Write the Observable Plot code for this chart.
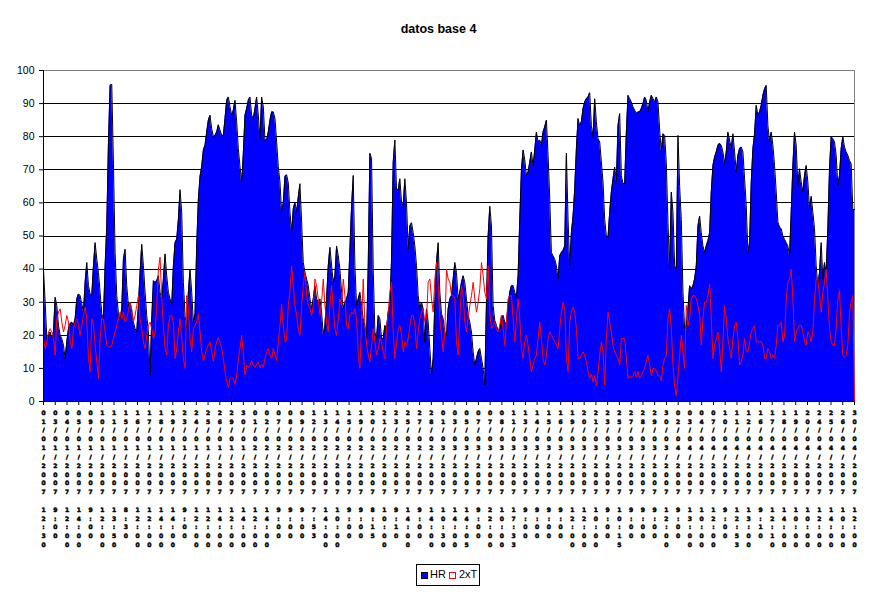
<!DOCTYPE html>
<html>
<head>
<meta charset="utf-8">
<script src="https://cdn.jsdelivr.net/npm/d3@7"></script>
<script src="https://cdn.jsdelivr.net/npm/@observablehq/plot@0.6"></script>
<style>
  html, body { margin: 0; padding: 0; background: #fff; }
  #wrap { position: relative; width: 877px; height: 594px; overflow: hidden; font-family: "Liberation Sans", Arial, sans-serif; }
  #title { position: absolute; left: 0; top: 21px; width: 877px; text-align: center; font-weight: bold; font-size: 12.5px; line-height: 16px; }
  #chart { position: absolute; left: 0; top: 50px; }
  #legend { position: absolute; left: 416px; top: 564px; width: 62px; height: 20px; border: 1px solid #000; font-size: 11px; background: #fff; }
  .sw { position: absolute; width: 5px; height: 5px; top: 7px; }
  .lt { position: absolute; top: 3px; line-height: 13px; }
</style>
</head>
<body>
<div id="wrap">
  <div id="title">datos base 4</div>
  <div id="chart"></div>
  <div id="legend">
    <div class="sw" style="left:4px;background:#0000FF;border:1px solid #000;"></div>
    <div class="lt" style="left:13px;">HR</div>
    <div class="sw" style="left:32px;background:#fff;border:1px solid #FF0000;"></div>
    <div class="lt" style="left:42px;">2xT</div>
  </div>
</div>
<script>
// HR series (blue area)
const hr = [
  40, 30, 19, 20, 21, 19, 21, 31.5, 29, 23, 20, 19, 17, 13, 18, 22, 23.5, 24, 23, 25,
  31, 32.5, 32, 29.5, 27, 36, 42, 35, 32.5, 32, 41, 48, 43, 39, 33, 26.5, 25, 41, 53, 78,
  95.5, 95.8, 72, 45, 32, 26.5, 25, 28, 43, 46, 35, 29, 30, 27, 24, 22, 21, 29, 39, 47.5,
  41, 33, 26, 21, 8, 25, 36.5, 36, 36.5, 38, 33, 31, 37, 44.6, 38, 33, 31, 29, 41, 48,
  49, 55, 64, 57, 36, 26, 22, 33, 40, 33, 24, 26.4, 47, 61, 68, 71, 76, 77.4, 81.4, 85,
  86.5, 82.4, 80, 80.4, 81.4, 83.6, 82, 80.4, 80.4, 85.5, 91, 92, 89, 86.5, 88, 91, 84.5, 76.4, 71, 66,
  75, 86.5, 88.5, 91,
  92, 86.5, 85.5, 88.5, 92, 86.5, 79.4, 92, 89, 79,
  79, 81.4, 85, 87.5, 87.5, 85.5, 78.4, 71, 66.3, 57.2,
  60, 68, 68.5, 66, 57.2, 51.2, 58.2, 60.2, 57.2, 61.8,
  65.8, 54.2, 42, 39, 37, 35, 31, 28, 31, 35,
  31, 30, 31, 27, 20, 23, 31, 41, 46.6, 41,
  36, 38, 47, 44, 40, 33, 28, 30, 31, 33,
  46, 59, 68.3, 41, 29, 31, 33, 29, 25, 23,
  19, 41, 75, 73.4, 40, 21, 19, 26, 25, 19,
  19, 23, 22, 27, 29, 43, 72.3, 79, 64, 64,
  67.3, 60.2, 59, 67.3, 60, 46, 53, 54, 51, 47,
  41, 32, 28, 30, 28, 18, 28, 24, 16, 8,
  13, 30, 42, 48, 33, 26.5, 25, 21, 20, 28,
  31, 32, 37,
  42, 39, 31, 33, 36, 38, 36, 31, 26, 24,
  21, 15, 11, 13, 15, 16, 13, 10, 5, 30,
  50, 59, 53, 29, 24.5, 23, 21.5, 22, 25.5, 26,
  24, 23.5, 29, 33, 35, 35, 33, 31.5, 38, 55,
  70, 76, 73, 68.3, 69.3, 72.3, 75.4, 71, 76, 81.4,
  78.4, 79, 77.4, 81.4, 83, 85, 74.4, 61.3, 45, 44,
  43, 41, 37, 44, 45, 45.6, 47, 75, 55, 41,
  51, 56, 64.3, 76.4, 85.5, 83.4, 84.5, 88.5, 90.5, 91.5,
  92, 93.3, 83.4, 80, 91.5, 84.5, 79.4, 78.4, 72.4, 66.3,
  55, 50, 49.6, 57.2, 63.3, 67.3, 70.8, 66.3, 83.4, 87,
  68.3, 65.8, 65.8, 81.4, 92.5, 91.5, 90.5, 89, 88, 87,
  87.5, 87.5, 88.5, 90, 92, 91, 87.5, 90.5, 92.5, 91.5,
  90.5, 92, 90.5,
  82, 75.4, 80.9, 80.4, 72, 54, 40, 63.3, 57.2, 41,
  40, 80.4, 65, 55, 33, 22, 23, 28, 35, 34,
  35, 37, 41, 53, 56, 51, 47, 45, 47, 48.6,
  51, 63.3, 71.3, 73.9, 75.4, 77.4, 78, 77.4, 75.4, 71.8,
  75.4, 81.4, 79, 76.4, 80.9, 75.4, 69.3, 74.4, 76.4, 76.9,
  75.4, 67.3, 59.2, 45, 48, 66.3, 76.4, 80.9, 89.5, 86.5,
  87.5, 89.5, 92.5, 94.5, 95.5, 83.4, 78.4, 81.4, 77.4, 71.3,
  63.3, 54.2, 52.7, 52.2, 50, 49, 48, 47, 44, 57.2,
  71.3, 81.4, 77.4, 65.3, 70.3, 66.3, 63.3, 68.3, 71.3, 66.3,
  58.2, 62, 57.2, 52.2, 41, 35, 39, 48, 37, 42,
  39, 52.2, 70.3, 80, 79.4, 78.4, 74.4, 65.3, 68.3, 76.4,
  80, 76.9, 75.4, 74.4, 72.8, 71.8, 58, 58
];

// 2xT series (red line)
const t2 = [
  19, 16, 18, 21, 22, 21, 19, 14, 25, 27,
  28, 24, 21, 23, 26, 24, 18, 16, 22, 24,
  25, 23, 20, 23, 26, 28.5, 25, 13, 9, 25,
  23, 17, 12, 7, 19, 25, 25, 21, 17, 16.4,
  16.4, 17, 19, 21, 23, 25, 27, 25, 27, 24,
  25, 27.5, 30, 28, 24, 26, 29, 32, 25, 22,
  18, 16, 20, 23, 24, 22, 19, 21, 29, 40,
  43.6, 31, 23, 16, 14, 23, 26, 26, 24, 13,
  16, 21, 25, 19, 13, 10, 32, 28, 19, 15,
  22, 23, 24, 26.4, 21, 15, 12.3, 14, 16, 17,
  18, 15, 12, 16, 18, 19.4, 18, 16, 13, 9,
  6, 4.2, 7, 7.3, 7, 5.2, 7.8, 13, 16, 20,
  14, 8, 11, 10.3,
  11, 12.3, 11, 10.3, 11.3, 12, 10.3, 11.3, 10.3, 13,
  15, 16, 14, 13, 16, 14, 12.3, 18, 23, 29.5,
  23, 18, 18.4, 29, 33, 41, 35, 29, 26, 22,
  20, 29, 35, 39, 32, 29, 28, 26, 29, 37,
  35, 31, 26, 30, 37, 29, 24, 21, 29, 35,
  28, 22, 20, 25, 31, 29, 37, 32, 23, 22,
  26, 27, 26.4, 28, 25, 14, 10, 23, 37, 23,
  17, 14, 12, 17, 22, 18, 14, 16, 19, 18,
  15, 13, 22, 27, 33, 36, 21, 13, 18, 22,
  23, 20, 15, 18, 17, 19, 23, 26, 26, 23,
  16, 21, 25, 27, 28, 24, 25, 36, 37, 31,
  27, 37, 42, 36, 25, 20, 15, 21, 40, 37,
  36, 32, 32,
  31, 18, 14, 25, 35, 32, 24, 21, 25, 29,
  32, 36, 31, 27, 30, 34, 42, 38, 33, 31,
  41, 27, 22, 23, 24, 22, 21, 23, 26, 22,
  17, 24, 31, 32, 32, 25, 18, 25, 31, 25,
  16, 13, 18, 20, 17, 13, 9, 11, 13, 14,
  19, 24, 19, 13, 11, 14, 19, 21, 20, 19,
  18, 17, 16, 22, 27, 30, 28, 13, 9, 24,
  27, 28.5, 27, 22, 13, 13, 14, 15, 14, 12,
  9, 7, 8.3, 5.8, 7.8, 4.7, 9, 14, 18, 15,
  5, 19, 27, 24, 21, 17, 15, 14, 13, 11,
  19, 19, 19, 13, 7, 7.8, 7.3, 7.8, 9, 7.3,
  9, 7, 7.8, 9, 10, 12, 14, 11, 7.8, 10,
  10, 9.3, 7.8,
  7.8, 6.3, 11, 13, 14, 25, 28, 22, 11, 4.7,
  1.7, 7.8, 14, 20, 15, 10, 29, 23, 25, 31,
  32, 32, 31, 29, 26, 17, 25, 30, 30, 32,
  35.5, 25, 13, 17, 19, 21, 16, 9, 18, 29,
  25, 19, 16, 13, 19, 23, 24, 19, 11, 12,
  14, 19, 15, 15, 18, 21, 22, 23, 18, 18,
  18, 18, 17, 13, 13, 16, 15, 13, 14, 13,
  17, 23, 23, 24, 18, 20, 31, 36, 37, 40,
  31, 18, 21, 22, 23, 23, 21, 18, 17, 21,
  20, 18, 21, 31, 37, 37, 32, 27, 33, 36,
  40, 31, 22, 18, 17, 17, 22, 31, 33.5, 22,
  14, 13.3, 14, 17, 27, 30, 32, 0
];

// Category tick labels (every 7th point)
const tickLabels = [
  "01/01/2007 12:30", "03/01/2007 9:00", "04/01/2007 12:00", "05/01/2007 14:00", "09/01/2007 9:00",
  "10/01/2007 12:00", "11/01/2007 13:50", "15/01/2007 8:30", "16/01/2007 12:00", "17/01/2007 12:00",
  "18/01/2007 14:00", "19/01/2007 14:00", "23/01/2007 9:00", "24/01/2007 12:00", "25/01/2007 12:00",
  "26/01/2007 14:00", "29/01/2007 12:00", "30/01/2007 14:00", "01/02/2007 12:00", "02/02/2007 14:00",
  "07/02/2007 9:00", "08/02/2007 9:00", "09/02/2007 9:00", "12/02/2007 7:53", "13/02/2007 14:00",
  "14/02/2007 10:00", "15/02/2007 9:00", "19/02/2007 9:00", "20/02/2007 8:15", "21/02/2007 10:00",
  "23/02/2007 9:10", "25/02/2007 14:00", "27/02/2007 9:00", "28/02/2007 14:00", "01/03/2007 10:30",
  "03/03/2007 14:00", "05/03/2007 14:05", "07/03/2007 9:00", "07/03/2007 22:00", "08/03/2007 10:00",
  "11/03/2007 17:33", "13/03/2007 9:00", "14/03/2007 9:00", "15/03/2007 9:00", "16/03/2007 9:00",
  "19/03/2007 12:00", "20/03/2007 12:00", "21/03/2007 10:00", "23/03/2007 9:00", "25/03/2007 10:15",
  "27/03/2007 9:00", "28/03/2007 9:00", "29/03/2007 9:00", "30/03/2007 12:00", "02/04/2007 9:00",
  "03/04/2007 13:00", "04/04/2007 10:00", "07/04/2007 12:00", "10/04/2007 9:00", "11/04/2007 12:53",
  "12/04/2007 13:00", "16/04/2007 9:10", "17/04/2007 12:10", "18/04/2007 14:00", "19/04/2007 10:00",
  "20/04/2007 10:00", "24/04/2007 12:00", "25/04/2007 14:00", "26/04/2007 10:00", "30/04/2007 12:00"
];

const yTicks = [0, 10, 20, 30, 40, 50, 60, 70, 80, 90, 100];
const gridValues = [10, 20, 30, 40, 50, 60, 70, 80, 90];

const N = hr.length;
const data = hr.map((v, i) => ({i, hr: v, t: t2[i]}));
const ticks = tickLabels.map((label, j) => ({
  pos: j * (N - 1) / (tickLabels.length - 1),
  text: label.split("").map(c => c === " " ? "\u00a0" : c).join("\n")
}));

const chart = Plot.plot({
  width: 877,
  height: 500,
  marginLeft: 43,
  marginRight: 23,
  marginTop: 20,
  marginBottom: 149,
  style: {fontFamily: "'Liberation Sans', Arial, sans-serif", fontSize: "10.5px", color: "#000", background: "#fff"},
  x: {domain: [0, N - 1], axis: null},
  y: {domain: [0, 100], axis: null},
  marks: [
    Plot.ruleY(gridValues, {stroke: "#000", strokeWidth: 1, shapeRendering: "crispEdges"}),
    Plot.ruleY([100], {stroke: "#808080", strokeWidth: 1, shapeRendering: "crispEdges"}),
    Plot.ruleX([N - 1], {stroke: "#808080", strokeWidth: 1, shapeRendering: "crispEdges"}),
    Plot.areaY(data, {x: "i", y: "hr", fill: "#0000FF", curve: "linear"}),
    Plot.lineY(data, {x: "i", y: "hr", stroke: "#000", strokeWidth: 1, curve: "linear"}),
    Plot.lineY(data, {x: "i", y: "t", stroke: "#FF0000", strokeWidth: 1, curve: "linear"}),
    Plot.ruleX([0], {stroke: "#000", strokeWidth: 1, shapeRendering: "crispEdges"}),
    Plot.ruleY([0], {stroke: "#000", strokeWidth: 1, shapeRendering: "crispEdges"}),
    Plot.axisY(yTicks, {tickSize: 4, tickPadding: 5, fontSize: 10.5, stroke: "#000", label: null}),
    Plot.axisX(ticks.map(d => d.pos), {tickSize: 4, tickFormat: () => "", stroke: "#000", label: null}),
    Plot.text(ticks, {
      x: "pos", text: "text", frameAnchor: "bottom", lineAnchor: "top",
      dy: 7, fontSize: 6, fontWeight: "bold", lineHeight: 1.47, fill: "#000",
      stroke: "#000", strokeWidth: 0.5,
      fontFamily: "'DejaVu Sans', sans-serif"
    })
  ]
});
document.getElementById("chart").appendChild(chart);
</script>
</body>
</html>
